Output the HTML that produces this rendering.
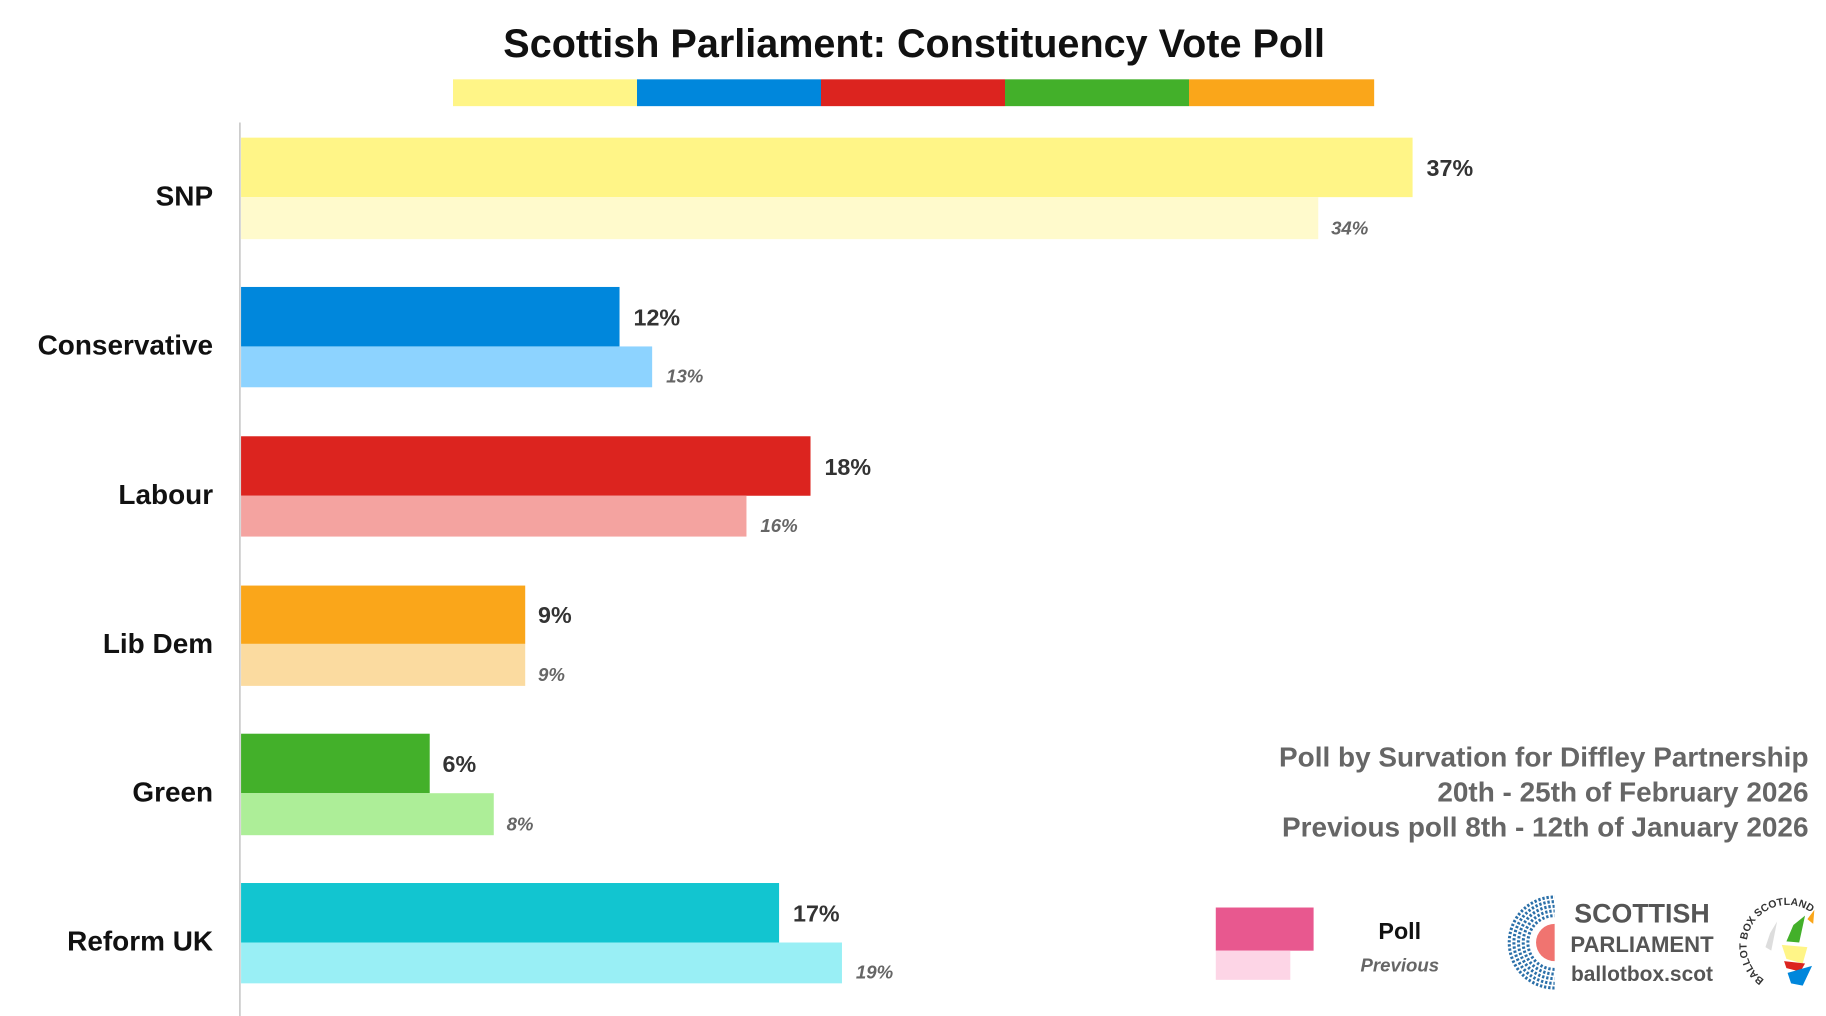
<!DOCTYPE html>
<html><head><meta charset="utf-8"><style>
html,body{margin:0;padding:0;background:#fff;}
svg{display:block;}
text{font-family:"Liberation Sans",sans-serif;}
</style></head><body>
<svg width="1826" height="1016" viewBox="0 0 1568 871" preserveAspectRatio="none">
<rect width="1568" height="871" fill="#fff"/>
<text x="785" y="49" text-anchor="middle" font-size="34" font-weight="bold" fill="#111">Scottish Parliament: Constituency Vote Poll</text>
<rect x="389" y="68" width="158" height="23" fill="#FFF587"/>
<rect x="547" y="68" width="158" height="23" fill="#0087DC"/>
<rect x="705" y="68" width="158" height="23" fill="#DC241F"/>
<rect x="863" y="68" width="158" height="23" fill="#43B02A"/>
<rect x="1021" y="68" width="159" height="23" fill="#FAA61A"/>
<line x1="206" y1="105" x2="206" y2="871" stroke="#ccc" stroke-width="1.5"/>
<g font-weight="bold">
<rect x="207" y="118" width="1006" height="51" fill="#FFF587"/>
<rect x="207" y="169" width="925" height="36" fill="#FFFACC"/>
<rect x="207" y="246" width="325" height="51" fill="#0087DC"/>
<rect x="207" y="297" width="353" height="35" fill="#8DD3FF"/>
<rect x="207" y="374" width="489" height="51" fill="#DC241F"/>
<rect x="207" y="425" width="434" height="35" fill="#F4A3A0"/>
<rect x="207" y="502" width="244" height="50" fill="#FAA61A"/>
<rect x="207" y="552" width="244" height="36" fill="#FBDBA0"/>
<rect x="207" y="629" width="162" height="51" fill="#43B02A"/>
<rect x="207" y="680" width="217" height="36" fill="#ADEE98"/>
<rect x="207" y="757" width="462" height="51" fill="#12C5D0"/>
<rect x="207" y="808" width="516" height="35" fill="#99EFF5"/>

<g font-size="24" fill="#111" text-anchor="end">
<text x="183" y="176">SNP</text>
<text x="183" y="304">Conservative</text>
<text x="183" y="432">Labour</text>
<text x="183" y="560">Lib Dem</text>
<text x="183" y="687">Green</text>
<text x="183" y="815">Reform UK</text>
</g>
<g font-size="20" fill="#333">
<text x="1225" y="151">37%</text>
<text x="544" y="279">12%</text>
<text x="708" y="407">18%</text>
<text x="462" y="534">9%</text>
<text x="380" y="662">6%</text>
<text x="681" y="790">17%</text>
</g>
<g font-size="16" fill="#666" font-style="italic">
<text x="1143" y="201">34%</text>
<text x="572" y="328">13%</text>
<text x="653" y="456">16%</text>
<text x="462" y="584">9%</text>
<text x="435" y="712">8%</text>
<text x="735" y="839">19%</text>
</g>
<g font-size="24" fill="#666" text-anchor="end">
<text x="1553" y="657">Poll by Survation for Diffley Partnership</text>
<text x="1553" y="687">20th - 25th of February 2026</text>
<text x="1553" y="717">Previous poll 8th - 12th of January 2026</text>
</g>
<rect x="1044" y="778" width="84" height="37" fill="#E8588F"/>
<rect x="1044" y="815" width="64" height="25" fill="#FDD5E6"/>
<text x="1202" y="805" text-anchor="middle" font-size="20" fill="#111">Poll</text>
<text x="1202" y="833" text-anchor="middle" font-size="16" font-style="italic" fill="#666">Previous</text>
</g>
<defs><clipPath id="lh"><rect x="1290" y="760" width="45" height="95"/></clipPath>
<path id="arc" d="M1515 840 A28 28 0 1 1 1555 782"/></defs>
<g clip-path="url(#lh)" fill="none" stroke="#2a6fa8" stroke-width="2.6" stroke-dasharray="2 1.6">
<circle cx="1335" cy="808" r="23"/>
<circle cx="1335" cy="808" r="27"/>
<circle cx="1335" cy="808" r="31"/>
<circle cx="1335" cy="808" r="35"/>
<circle cx="1335" cy="808" r="39"/>
</g>
<path d="M1335 792 A16 16 0 0 0 1335 824 Z" fill="#F07470"/>
<g font-weight="bold" fill="#555" text-anchor="middle">
<text x="1410" y="791" font-size="23">SCOTTISH</text>
<text x="1410" y="816" font-size="19">PARLIAMENT</text>
<text x="1410" y="841" font-size="18">ballotbox.scot</text>
</g>
<text font-size="9" font-weight="bold" fill="#333"><textPath href="#arc">BALLOT BOX SCOTLAND</textPath></text>
<polygon points="1520,800 1526,790 1521,815 1516,812" fill="#ddd"/>
<polygon points="1540,793 1550,785 1545,808 1534,807" fill="#43B02A"/>
<polygon points="1530,810 1552,812 1548,826 1534,822" fill="#FFF587"/>
<polygon points="1532,824 1550,826 1546,833 1534,830" fill="#DC241F"/>
<polygon points="1535,834 1556,828 1548,845 1538,843" fill="#0087DC"/>
<polygon points="1552,788 1558,780 1557,792" fill="#FAA61A"/>
</svg>
</body></html>
